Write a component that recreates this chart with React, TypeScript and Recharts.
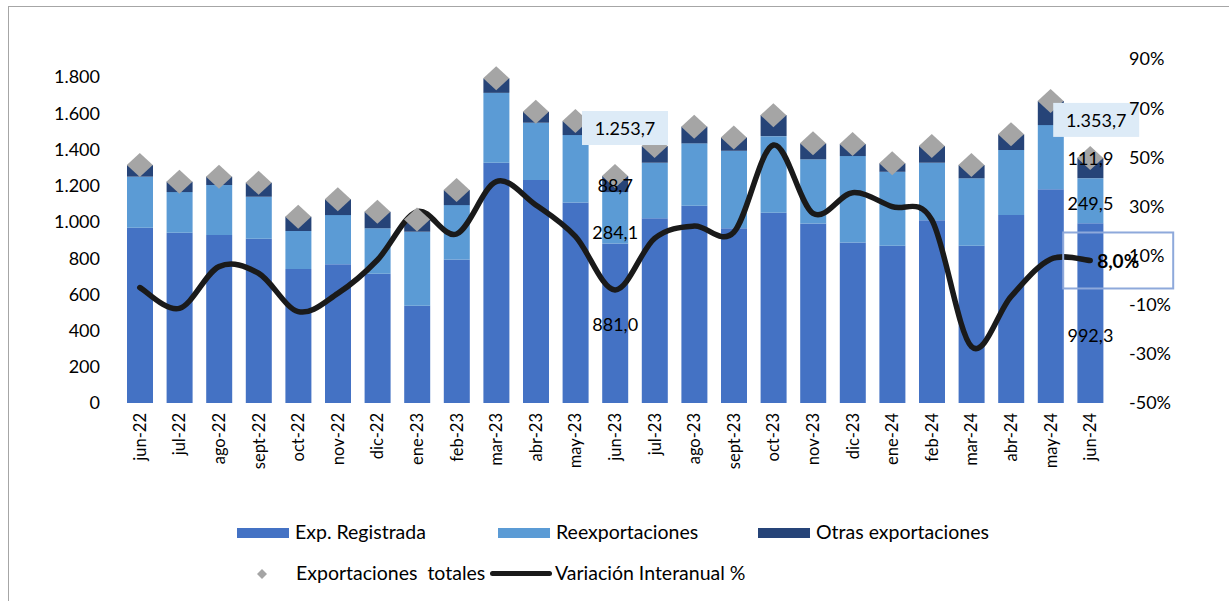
import React from 'react';
import { ComposedChart, Bar, Line, XAxis, YAxis, Legend, LabelList } from 'recharts';

const months = ['jun-22', 'jul-22', 'ago-22', 'sept-22', 'oct-22', 'nov-22', 'dic-22', 'ene-23', 'feb-23', 'mar-23', 'abr-23', 'may-23', 'jun-23', 'jul-23', 'ago-23', 'sept-23', 'oct-23', 'nov-23', 'dic-23', 'ene-24', 'feb-24', 'mar-24', 'abr-24', 'may-24', 'jun-24'];
const expRegistrada = [968, 940, 928, 907, 740, 766, 714, 537, 793, 1327, 1231, 1108, 881.0, 1020, 1090, 965, 1051, 992, 887, 869, 1010, 869, 1038, 1180, 992.3];
const reexportaciones = [282, 225, 276, 232, 210, 272, 251, 409, 300, 386, 317, 372, 284.1, 307, 344, 428, 423, 354, 477, 408, 317, 372, 359, 355, 249.5];
const otrasExportaciones = [64, 57, 46, 77, 79, 88, 91, 68, 83, 80, 60, 77, 88.7, 92, 92, 74, 116, 88, 66, 47, 92, 73, 88, 133, 111.9];
const exportacionesTotales = [1314, 1222, 1250, 1216, 1029, 1126, 1056, 1014, 1176, 1793, 1608, 1557, 1253.7, 1419, 1526, 1467, 1590, 1434, 1430, 1324, 1419, 1314, 1485, 1668, 1353.7];
const variacionInteranual = [-3, -11.5, 5.5, 2.8, -12.8, -5.4, 8.2, 27.9, 18.8, 40.1, 30.6, 17.8, -4, 17, 22, 19.5, 55, 27.2, 35.6, 29.9, 24.5, -27, -6.7, 8.5, 8.0];
const leftTicks = [0, 200, 400, 600, 800, 1000, 1200, 1400, 1600, 1800];
const rightTicks = [-50, -30, -10, 10, 30, 50, 70, 90];
const labeledIndices = [12, 24];

const data = months.map((m, i) => ({
  month: m,
  reg: expRegistrada[i],
  reexp: reexportaciones[i],
  otras: otrasExportaciones[i],
  total: exportacionesTotales[i],
  varPct: variacionInteranual[i],
}));

const C_REG = '#4472C4';
const C_REEXP = '#5B9BD5';
const C_OTRAS = '#264478';
const C_DIAMOND = '#A5A5A5';
const C_LINE = '#1A1A1A';
const FONT = 'Lato, "Open Sans", sans-serif';

const thousands = (s: string) => s.replace(/\B(?=(\d{3})+(?!\d))/g, '.');
const fmtNum = (v: number) => {
  const [i, d] = v.toFixed(1).split('.');
  return thousands(i) + ',' + d;
};

// per-label vertical shifts (manual label placement in the original)
const segShift: Record<number, { reg: number; reexp: number; otras: number }> = {
  12: { reg: 1, reexp: 14, otras: 1 },
  24: { reg: 22, reexp: 2, otras: -10 },
};
const totalShift: Record<number, { dx: number; dy: number }> = {
  12: { dx: 10, dy: -48 },
  24: { dx: 6, dy: -38 },
};

function excelSmooth(context: any) {
  let pts: [number, number][] = [];
  return {
    areaStart() {},
    areaEnd() {},
    lineStart() {
      pts = [];
    },
    point(x: number, y: number) {
      pts.push([+x, +y]);
    },
    lineEnd() {
      const n = pts.length;
      if (!n) return;
      context.moveTo(pts[0][0], pts[0][1]);
      for (let i = 0; i < n - 1; i++) {
        const p0 = pts[Math.max(i - 1, 0)];
        const p1 = pts[i];
        const p2 = pts[i + 1];
        const p3 = pts[Math.min(i + 2, n - 1)];
        context.bezierCurveTo(
          p1[0] + (p2[0] - p0[0]) / 6,
          p1[1] + (p2[1] - p0[1]) / 6,
          p2[0] - (p3[0] - p1[0]) / 6,
          p2[1] - (p3[1] - p1[1]) / 6,
          p2[0],
          p2[1]
        );
      }
    },
  };
}

const segLabel = (key: 'reg' | 'reexp' | 'otras') => (p: any) => {
  const idx = p.index;
  if (!labeledIndices.includes(idx)) return null;
  const cx = p.x + p.width / 2;
  const cy = p.y + p.height / 2 + (segShift[idx] ? segShift[idx][key] : 0);
  return (
    <text x={cx} y={cy} textAnchor="middle" dominantBaseline="central" fontFamily={FONT} fontSize={18} fill="#000">
      {fmtNum(Number(p.value))}
    </text>
  );
};

const totalLabel = (p: any) => {
  const idx = p.index;
  if (!labeledIndices.includes(idx)) return null;
  const s = totalShift[idx] || { dx: 0, dy: -30 };
  const cx = p.x + s.dx;
  const cy = p.y + s.dy;
  return (
    <g>
      <rect x={cx - 43} y={cy - 17} width={86} height={34} fill="#DDEBF7" />
      <text x={cx} y={cy} textAnchor="middle" dominantBaseline="central" fontFamily={FONT} fontSize={18} fill="#000">
        {fmtNum(Number(p.value))}
      </text>
    </g>
  );
};

const varLabel = (p: any) => {
  if (p.index !== months.length - 1) return null;
  const cx = p.x + 28;
  const cy = p.y;
  return (
    <g>
      <rect x={cx - 55} y={cy - 28} width={110} height={56} fill="none" stroke="#8EA9DB" strokeWidth={2} />
      <text x={cx} y={cy} textAnchor="middle" dominantBaseline="central" fontFamily={FONT} fontSize={19} fontWeight="bold" fill="#000">
        {Number(p.value).toFixed(1).replace('.', ',') + '%'}
      </text>
    </g>
  );
};

const renderDiamond = (p: any) => {
  const { cx, cy, index } = p;
  if (cx == null || cy == null) return <g key={`d-${index}`} />;
  return (
    <polygon
      key={`d-${index}`}
      points={`${cx},${cy - 12} ${cx + 13},${cy} ${cx},${cy + 12} ${cx - 13},${cy}`}
      fill={C_DIAMOND}
    />
  );
};

const XTick = (p: any) => {
  const { x, y, payload } = p;
  return (
    <text
      transform={`translate(${x},${y + 10}) rotate(-90)`}
      textAnchor="end"
      dominantBaseline="central"
      fontFamily={FONT}
      fontSize={16.5}
      fill="#000"
    >
      {payload.value}
    </text>
  );
};

const legendText: React.CSSProperties = {
  position: 'absolute',
  fontFamily: FONT,
  fontSize: 19.5,
  color: '#000',
  lineHeight: '24px',
  whiteSpace: 'nowrap',
};

const renderLegend = () => (
  <div style={{ position: 'relative', width: 1229, height: 90 }}>
    <div style={{ position: 'absolute', left: 237, top: 18, width: 52, height: 10, background: C_REG }} />
    <div style={{ ...legendText, left: 295, top: 10 }}>Exp. Registrada</div>
    <div style={{ position: 'absolute', left: 498, top: 18, width: 52, height: 10, background: C_REEXP }} />
    <div style={{ ...legendText, left: 556, top: 10 }}>Reexportaciones</div>
    <div style={{ position: 'absolute', left: 758, top: 18, width: 52, height: 10, background: C_OTRAS }} />
    <div style={{ ...legendText, left: 816, top: 10 }}>Otras exportaciones</div>
    <svg style={{ position: 'absolute', left: 255, top: 56 }} width={14} height={16}>
      <polygon points="7,3 12,8 7,13 2,8" fill={C_DIAMOND} />
    </svg>
    <div style={{ ...legendText, left: 296, top: 51 }}>Exportaciones&nbsp; totales</div>
    <div style={{ position: 'absolute', left: 490, top: 61, width: 62, height: 5, borderRadius: 3, background: C_LINE }} />
    <div style={{ ...legendText, left: 555, top: 51 }}>Variación Interanual %</div>
  </div>
);

export default function App() {
  return (
    <div style={{ position: 'absolute', left: 0, top: 0, width: 1229, height: 601, background: '#fff', overflow: 'hidden' }}>
      <div style={{ position: 'absolute', left: 8, top: 6, width: 1221, height: 595, borderTop: '1px solid #A6A6A6', borderLeft: '1px solid #A6A6A6' }} />
      <div style={{ position: 'absolute', left: 0, top: 0 }}>
        <ComposedChart width={1229} height={601} data={data} margin={{ top: 59, right: 0, bottom: 0, left: 0 }} barSize={26}>
          <XAxis
            dataKey="month"
            height={198}
            interval={0}
            axisLine={false}
            tickLine={false}
            tickSize={0}
            tickMargin={0}
            tick={<XTick />}
          />
          <Legend layout="horizontal" verticalAlign="middle" align="center" wrapperStyle={{ top: 510, left: 0, width: 1229, height: 90 }} content={renderLegend} />
          <Bar dataKey="reg" name="Exp. Registrada" stackId="a" yAxisId="left" fill={C_REG} isAnimationActive={false}>
            <LabelList dataKey="reg" content={segLabel('reg')} />
          </Bar>
          <Bar dataKey="reexp" name="Reexportaciones" stackId="a" yAxisId="left" fill={C_REEXP} isAnimationActive={false}>
            <LabelList dataKey="reexp" content={segLabel('reexp')} />
          </Bar>
          <Bar dataKey="otras" name="Otras exportaciones" stackId="a" yAxisId="left" fill={C_OTRAS} isAnimationActive={false}>
            <LabelList dataKey="otras" content={segLabel('otras')} />
          </Bar>
          <Line
            dataKey="total"
            name="Exportaciones totales"
            yAxisId="left"
            stroke="none"
            dot={renderDiamond}
            activeDot={false}
            isAnimationActive={false}
          >
            <LabelList dataKey="total" content={totalLabel} />
          </Line>
          <Line
            dataKey="varPct"
            name="Variación Interanual %"
            yAxisId="right"
            type={excelSmooth as any}
            stroke={C_LINE}
            strokeWidth={5.5}
            strokeLinecap="round"
            dot={false}
            activeDot={false}
            isAnimationActive={false}
          >
            <LabelList dataKey="varPct" content={varLabel} />
          </Line>
          <YAxis
            yAxisId="left"
            width={120}
            domain={[0, 1900]}
            ticks={leftTicks}
            axisLine={false}
            tickLine={false}
            tickSize={0}
            tickMargin={20}
            tickFormatter={(v: number) => thousands(String(v))}
            tick={{ fontFamily: FONT, fontSize: 18, fill: '#000' }}
          />
          <YAxis
            yAxisId="right"
            orientation="right"
            width={119}
            domain={[-50, 90]}
            ticks={rightTicks}
            axisLine={false}
            tickLine={false}
            tickSize={0}
            tickMargin={19}
            tickFormatter={(v: number) => `${v}%`}
            tick={{ fontFamily: FONT, fontSize: 18, fill: '#000' }}
          />
        </ComposedChart>
      </div>
    </div>
  );
}
